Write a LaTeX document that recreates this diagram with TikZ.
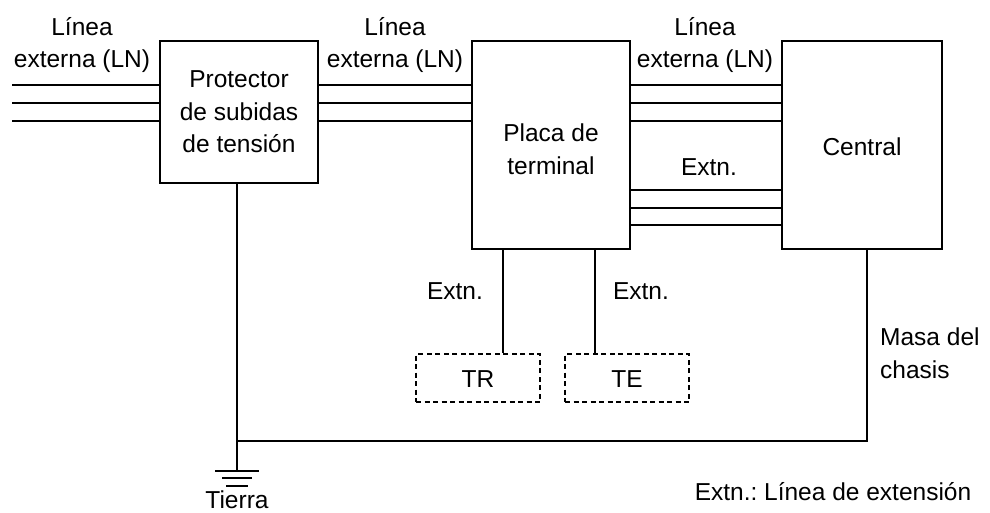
\documentclass[tikz,border=0pt]{standalone}
\usepackage{fontspec}
\setmainfont{Liberation Sans}
\usetikzlibrary{calc}
\frenchspacing
\begin{document}
\begin{tikzpicture}[x=1pt,y=-1pt,
  every node/.style={font=\fontsize{24.5}{32.5}\selectfont, inner sep=0pt, align=center},
  box/.style={draw, line width=1.6pt, minimum width=#1, rectangle},
  wire/.style={line width=1.6pt},
  dbox/.style={draw, line width=1.4pt, dash pattern=on 5pt off 3.5pt, minimum width=124pt, minimum height=48pt}
]
\useasboundingbox (0,0) rectangle (990,513);
% boxes
\node[box=158pt, minimum height=142pt] (prot) at (239,112) {};
\node at (239,112) {Protector\\de subidas\\de tensión};
\node[box=158pt, minimum height=208pt] (plac) at (551,145) {};
\node at (551,149) {Placa de\\terminal};
\node[box=160pt, minimum height=208pt] (cent) at (862,145) {};
\node at (862,147) {Central};
\node[dbox] (tr) at (478,378) {};
\node at (478,379) {TR};
\node[dbox] (te) at (627,378) {};
\node at (627,379) {TE};
% reference coordinates
\coordinate (l1) at (12,85);
\coordinate (l2) at (12,103);
\coordinate (l3) at (12,121);
\coordinate (e1) at (0,190);
\coordinate (e2) at (0,208);
\coordinate (e3) at (0,225);
\coordinate (gj) at (237,441);
\coordinate (g0) at (237,471);
\coordinate (cj) at (867,441);
% outside lines
\foreach \c in {l1,l2,l3}{
  \draw[wire] (\c) -- (prot.west |- \c);
  \draw[wire] (prot.east |- \c) -- (plac.west |- \c);
  \draw[wire] (plac.east |- \c) -- (cent.west |- \c);
}
\foreach \c in {e1,e2,e3}{
  \draw[wire] (plac.east |- \c) -- (cent.west |- \c);
}
% extensions
\draw[wire] (plac.south -| 503,0) -- (tr.north -| 503,0);
\draw[wire] (plac.south -| 595,0) -- (te.north -| 595,0);
% ground
\draw[wire] (prot.south -| gj) -- (g0);
\draw[wire] (cent.south -| cj) -- (cj) -- (gj);
\draw[wire] ($(g0)+(-22,0)$) -- ($(g0)+(22,0)$);
\draw[wire] (222,478) -- (252,478);
\draw[wire] (226,486) -- (248,486);
% labels
\node (t1) at (82,45) {Línea\\externa (LN)};
\node (t2) at (395,45) {Línea\\externa (LN)};
\node (t3) at (705,45) {Línea\\externa (LN)};
\node (t4) at (709,167) {Extn.};
\node (t5) at (455,291) {Extn.};
\node (t6) at (641,291) {Extn.};
\node[align=left, anchor=west] (t7) at (880,353) {Masa del\\chasis};
\node (t8) at (237,500) {Tierra};
\node (t9) at (833,492) {Extn.: Línea de extensión};
\end{tikzpicture}
\end{document}
